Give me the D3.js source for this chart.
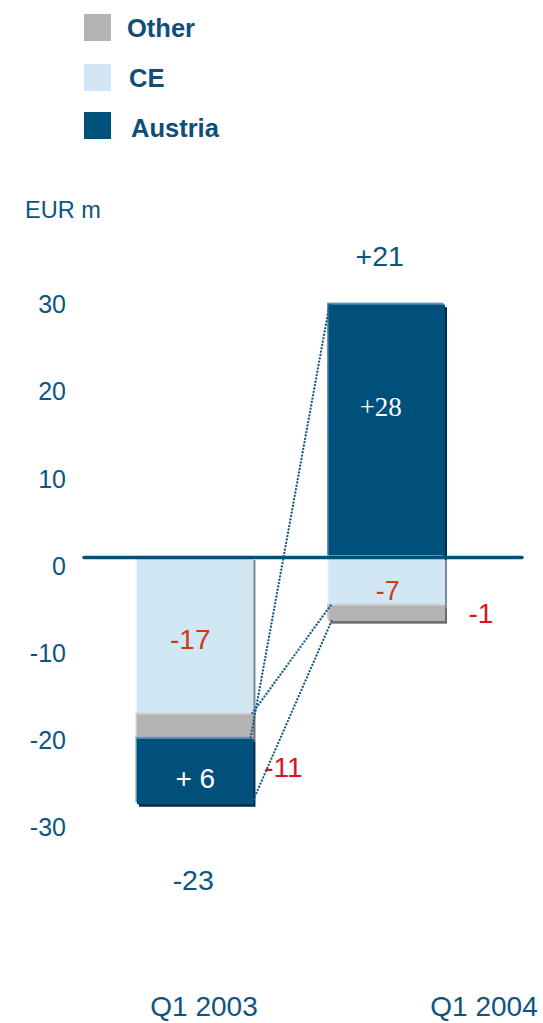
<!DOCTYPE html>
<html>
<head>
<meta charset="utf-8">
<script src="https://cdn.jsdelivr.net/npm/d3@7"></script>
<style>
  html, body { margin: 0; padding: 0; background: #ffffff; }
  svg { display: block; font-family: "Liberation Sans", Arial, sans-serif; }
</style>
</head>
<body>
<svg id="chart" width="543" height="1023"></svg>
<script>
// ---- data ----
const categories = ["Q1 2003", "Q1 2004"];
const seriesNames = ["Other", "CE", "Austria"];          // legend order
// visual segment sizes (EUR m)
const austriaValues = [-7.5, 29];
const ceValues      = [-18, -5.5];
const otherValues   = [-2.8, -1.8];
// stacking order per category (from the zero line outward)
const stackOrder = [["CE", "Other", "Austria"], ["Austria", "CE", "Other"]];
// printed labels
const segmentLabels = { "Q1 2003": { CE: "-17", Austria: "+ 6" }, "Q1 2004": { Austria: "+28", CE: "-7" } };
const otherLabels = ["-11", "-1"];
const totalLabels = ["-23", "+21"];
const yTicks = [30, 20, 10, 0, -10, -20, -30];
const unitLabel = "EUR m";

const valuesBySeries = { Austria: austriaValues, CE: ceValues, Other: otherValues };
const colors = {
  Austria: { fill: "#00507c", light: "#5f93b3", dark: "#002f4d" },
  CE:      { fill: "#d2e7f4", light: "#eef6fb", dark: "#7d8b96" },
  Other:   { fill: "#b3b3b3", light: "#d2d2d2", dark: "#6b6b6b" }
};
const textBlue = "#0d5580";

const svg = d3.select("#chart");

// ---- scales ----
const y = d3.scaleLinear().domain([-30, 30]).range([819.1, 295.9]);
const x = d3.scaleBand().domain(categories).range([137, 445]).paddingInner(0.392).paddingOuter(0);
const xLabel = d3.scalePoint().domain(categories).range([204, 484]);

// ---- build stacked segments ----
const segments = [];
categories.forEach((cat, ci) => {
  let pos = 0, neg = 0;
  stackOrder[ci].forEach(name => {
    const v = valuesBySeries[name][ci];
    let y0, y1;
    if (v >= 0) { y0 = pos; y1 = pos + v; pos = y1; }
    else { y0 = neg; y1 = neg + v; neg = y1; }
    segments.push({ cat, ci, name, v, y0, y1 });
  });
});
const seg = (cat, name) => segments.find(s => s.cat === cat && s.name === name);

// ---- legend ----
const legend = svg.append("g");
const legendRows = [
  { name: "Other", sqY: 14, tx: 127, ty: 37 },
  { name: "CE", sqY: 64, tx: 129, ty: 87 },
  { name: "Austria", sqY: 112, tx: 131, ty: 137 }
];
legendRows.forEach(r => {
  legend.append("rect").attr("x", 84).attr("y", r.sqY).attr("width", 27).attr("height", 27)
    .attr("fill", colors[r.name].fill);
  legend.append("text").attr("x", r.tx).attr("y", r.ty).text(r.name)
    .attr("font-size", 25.5).attr("font-weight", "bold").attr("fill", "#0f4e78");
});

// ---- unit label & y tick labels ----
svg.append("text").attr("x", 25).attr("y", 218).text(unitLabel)
  .attr("font-size", 23.5).attr("fill", textBlue);

svg.append("g").selectAll("text").data(yTicks).join("text")
  .attr("x", 66).attr("y", d => y(d) + 8.5)
  .attr("dy", "0.35em")
  .attr("text-anchor", "end")
  .attr("font-size", 25)
  .attr("fill", textBlue)
  .text(d => d);

// ---- bars ----
const bars = svg.append("g");
segments.forEach(s => {
  const bx = x(s.cat), bw = x.bandwidth();
  const top = y(Math.max(s.y0, s.y1)), bot = y(Math.min(s.y0, s.y1));
  const h = bot - top;
  const c = colors[s.name];
  bars.append("rect").attr("x", bx + 2).attr("y", top + 2.5).attr("width", bw).attr("height", h).attr("fill", c.dark);
  bars.append("rect").attr("x", bx - 1.5).attr("y", top - 2).attr("width", bw).attr("height", h).attr("fill", c.light);
  bars.append("rect").attr("x", bx).attr("y", top).attr("width", bw).attr("height", h).attr("fill", c.fill);
});

// ---- zero line ----
svg.append("line").attr("x1", 84).attr("x2", 522).attr("y1", y(0)).attr("y2", y(0))
  .attr("stroke", "#00507c").attr("stroke-width", 3.5).attr("stroke-linecap", "round");

// ---- dotted connector lines ----
const c03 = categories[0], c04 = categories[1];
const right03 = x(c03) + x.bandwidth() - 3;
const left04 = x(c04) + 1;
const connectors = [
  [left04, y(seg(c04, "Austria").y1), right03, y(seg(c03, "Other").y1)],
  [left04 + 1, y(seg(c04, "CE").y1), right03 + 1, y(seg(c03, "CE").y1)],
  [left04 + 2, y(seg(c04, "Other").y1), right03 + 1, y(seg(c03, "Austria").y1)]
];
svg.append("g").selectAll("line").data(connectors).join("line")
  .attr("x1", d => d[0]).attr("y1", d => d[1]).attr("x2", d => d[2]).attr("y2", d => d[3])
  .attr("stroke", "#145a88").attr("stroke-width", 2.3)
  .attr("stroke-dasharray", "0.01 3.4").attr("stroke-linecap", "round");

// ---- segment labels ----
const lab = svg.append("g");
function midY(s) { return y((s.y0 + s.y1) / 2); }
const s03ce = seg(c03, "CE"), s03au = seg(c03, "Austria"), s04au = seg(c04, "Austria"), s04ce = seg(c04, "CE");
const cx03 = x(c03) + x.bandwidth() / 2, cx04 = x(c04) + x.bandwidth() / 2;
lab.append("text").attr("x", cx03 - 5).attr("y", midY(s03ce) + 13).attr("text-anchor", "middle")
  .attr("font-size", 28).attr("fill", "#cc3d12").text(segmentLabels[c03].CE);
lab.append("text").attr("x", cx03).attr("y", midY(s03au) + 16).attr("text-anchor", "middle")
  .attr("font-size", 28).attr("fill", "#ffffff").text(segmentLabels[c03].Austria);
lab.append("text").attr("x", cx04 - 6).attr("y", midY(s04au) - 15).attr("text-anchor", "middle")
  .attr("font-family", "'Liberation Serif', 'Times New Roman', serif")
  .attr("font-size", 27).attr("fill", "#ffffff").text(segmentLabels[c04].Austria);
lab.append("text").attr("x", cx04 + 1).attr("y", midY(s04ce) + 19).attr("text-anchor", "middle")
  .attr("font-size", 27).attr("fill", "#cc3d12").text(segmentLabels[c04].CE);

// Other labels, to the right of each bar
lab.append("text").attr("x", x(c03) + x.bandwidth() + 30).attr("y", 777).attr("text-anchor", "middle")
  .attr("font-size", 28).attr("fill", "#d8141f").text(otherLabels[0]);
lab.append("text").attr("x", x(c04) + x.bandwidth() + 36).attr("y", 623).attr("text-anchor", "middle")
  .attr("font-size", 28).attr("fill", "#d8141f").text(otherLabels[1]);

// totals
lab.append("text").attr("x", cx03 - 2).attr("y", 890).attr("text-anchor", "middle")
  .attr("font-size", 28.5).attr("fill", textBlue).text(totalLabels[0]);
lab.append("text").attr("x", cx04 - 7).attr("y", 266).attr("text-anchor", "middle")
  .attr("font-size", 28.5).attr("fill", textBlue).text(totalLabels[1]);

// ---- category labels ----
svg.append("g").selectAll("text").data(categories).join("text")
  .attr("x", d => xLabel(d)).attr("y", 1016).attr("text-anchor", "middle")
  .attr("font-size", 28).attr("fill", textBlue).text(d => d);
</script>
</body>
</html>
